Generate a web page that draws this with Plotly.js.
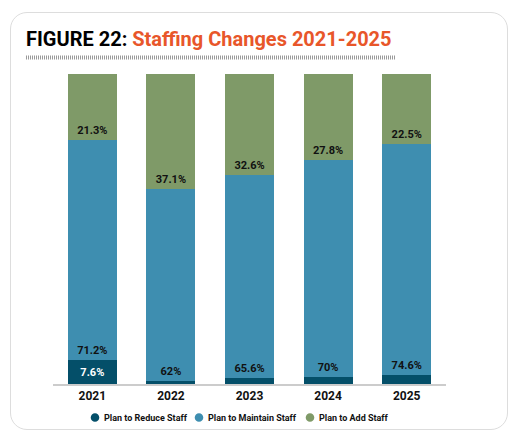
<!DOCTYPE html>
<html>
<head>
<meta charset="utf-8">
<script src="https://cdn.plot.ly/plotly-3.0.1.min.js"></script>
<style>
  html, body { margin: 0; padding: 0; background: #fff; }
  #wrap { position: relative; width: 518px; height: 440px; }
  #chart { width: 518px; height: 440px; }
  #frame { position: absolute; left: 10px; top: 12px; width: 496px; height: 416px;
           border: 1.5px solid #dddddd; border-radius: 17px; pointer-events: none; }
</style>
</head>
<body>
<div id="wrap">
  <div id="chart"></div>
  <div id="frame"></div>
</div>
<script>
const years = ['2021', '2022', '2023', '2024', '2025'];
const reduceStaff = [7.6, 0.9, 1.8, 2.2, 2.9];
const maintainStaff = [71.2, 62, 65.6, 70, 74.6];
const addStaff = [21.3, 37.1, 32.6, 27.8, 22.5];
const reduceLabels = ['7.6%', '', '', '', ''];
const maintainLabels = ['71.2%', '62%', '65.6%', '70%', '74.6%'];
const addLabels = ['21.3%', '37.1%', '32.6%', '27.8%', '22.5%'];
const seriesNames = ['Plan to Reduce Staff', 'Plan to Maintain Staff', 'Plan to Add Staff'];
const colors = ['#044f69', '#3e8eb0', '#7f9a68'];

const W = 518, H = 440;
const M = { l: 53, r: 72, t: 74, b: 56 };
const pw = W - M.l - M.r, ph = H - M.t - M.b;
const px2x = px => (px - M.l) / pw;
const px2y = py => (H - M.b - py) / ph;

const lblFont = { family: 'Roboto, Arial, sans-serif', size: 11, color: '#111' };

function barTrace(vals, labels, idx, textColor, anchor) {
  return {
    type: 'bar', x: years, y: vals, name: seriesNames[idx], showlegend: false,
    marker: { color: colors[idx], line: { width: 0 } },
    text: labels, textposition: 'inside', insidetextanchor: anchor, textangle: 0,
    constraintext: 'none', cliponaxis: false,
    textfont: Object.assign({}, lblFont, { color: textColor, weight: 'bold' }),
    hoverinfo: 'skip'
  };
}

const data = [
  barTrace(reduceStaff, reduceLabels, 0, '#ffffff', 'middle'),
  barTrace(maintainStaff, maintainLabels, 1, '#111111', 'start'),
  barTrace(addStaff, addLabels, 2, '#111111', 'start')
];

// legend (drawn as markers + texts below the axis)
const legendCx = [95, 199, 310];
const legendY = 417.5;
const shapes = [
  {
    type: 'line', xref: 'paper', yref: 'paper',
    x0: px2x(26), x1: px2x(396), y0: px2y(57.5), y1: px2y(57.5),
    line: { color: '#9a9a9a', width: 4, dash: '1px,1px' }
  }
];
const annotations = [];
seriesNames.forEach((name, i) => {
  const r = 4.3, cx = legendCx[i];
  shapes.push({
    type: 'circle', xref: 'paper', yref: 'paper',
    x0: px2x(cx - r), x1: px2x(cx + r), y0: px2y(legendY + r), y1: px2y(legendY - r),
    fillcolor: colors[i], line: { width: 0 }
  });
  annotations.push({
    xref: 'paper', yref: 'paper', x: px2x(cx + 6.5), y: px2y(legendY),
    xanchor: 'left', yanchor: 'middle', showarrow: false, text: name,
    font: { family: 'Roboto, Arial, sans-serif', size: 9, color: '#111', weight: 'bold' }
  });
});

const layout = {
  width: W, height: H,
  margin: M,
  paper_bgcolor: 'rgba(0,0,0,0)', plot_bgcolor: 'rgba(0,0,0,0)',
  barmode: 'stack', bargap: 0.377,
  showlegend: false,
  title: {
    text: '<b>FIGURE 22: </b><b><span style="color:#e8562a">Staffing Changes 2021-2025</span></b>',
    font: { family: 'Roboto, Arial, sans-serif', size: 20, color: '#000' },
    xref: 'container', yref: 'container', x: 26 / W, xanchor: 'left',
    y: 1 - 39 / H, yanchor: 'middle'
  },
  xaxis: {
    type: 'category', showline: true, linecolor: '#cccccc', linewidth: 2,
    showgrid: false, zeroline: false, ticks: '', fixedrange: true,
    tickfont: { family: 'Roboto, Arial, sans-serif', size: 12, color: '#111', weight: 'bold' }
  },
  yaxis: { range: [0, 100.1], visible: false, showgrid: false, zeroline: false, fixedrange: true },
  shapes: shapes,
  annotations: annotations
};

Plotly.newPlot('chart', data, layout, { displayModeBar: false, staticPlot: true });
</script>
</body>
</html>
